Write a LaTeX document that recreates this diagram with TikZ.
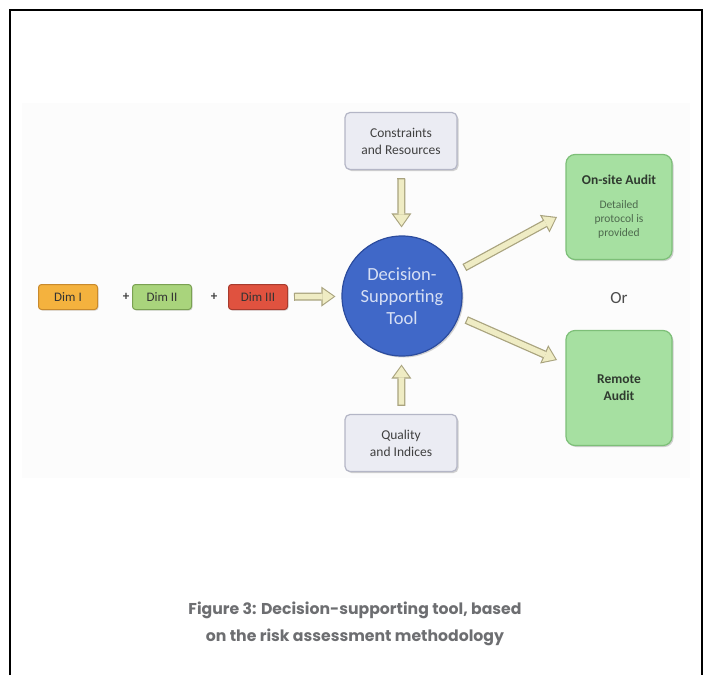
\documentclass[tikz,border=0pt]{standalone}
\usepackage{fontspec}
\setmainfont{Carlito}
\newfontfamily\capfont{Poppins}
\usetikzlibrary{arrows.meta,shadows}
\definecolor{bgfaint}{HTML}{FCFCFC}
\definecolor{greyfill}{HTML}{EBECF3}
\definecolor{greyedge}{HTML}{B4B6C6}
\definecolor{bluefill}{HTML}{4068C8}
\definecolor{blueedge}{HTML}{2C4C9E}
\definecolor{bluetext}{HTML}{D6DFF4}
\definecolor{orfill}{HTML}{F4B23E}
\definecolor{oredge}{HTML}{C98A2C}
\definecolor{lgfill}{HTML}{A9D47C}
\definecolor{lgedge}{HTML}{7AA152}
\definecolor{rdfill}{HTML}{E0523F}
\definecolor{rdedge}{HTML}{A83B2E}
\definecolor{audfill}{HTML}{A6E0A1}
\definecolor{audedge}{HTML}{7DBF78}
\definecolor{audtext}{HTML}{2F3A2F}
\definecolor{detailtext}{HTML}{4E6A4E}
\definecolor{arrfill}{HTML}{EFECC4}
\definecolor{arredge}{HTML}{A9A37E}
\definecolor{captext}{HTML}{6D6E71}
\tikzset{
  greybox/.style={draw=greyedge, line width=1.2pt, fill=greyfill, rounded corners=5pt,
    minimum width=112pt, minimum height=57pt, align=center, font=\fontsize{13.5}{17}\selectfont,
    text=black!75, drop shadow={shadow xshift=1.5pt, shadow yshift=-1.5pt, opacity=0.35}},
  dimbox/.style={line width=1pt, rounded corners=3pt, minimum width=59pt, minimum height=25pt,
    font=\fontsize{13}{14}\selectfont, text=black!80,
    drop shadow={shadow xshift=1pt, shadow yshift=-1pt, opacity=0.3}},
  audbox/.style={draw=audedge, line width=1.2pt, fill=audfill, rounded corners=9pt,
    minimum width=106pt, align=center, text=audtext,
    drop shadow={shadow xshift=1.5pt, shadow yshift=-1.5pt, opacity=0.35}},
  plus/.style={font=\bfseries\fontsize{13}{14}\selectfont, text=black!75},
  fatout/.style={line width=8pt, draw=arredge, -{Triangle[length=14pt,width=20pt,line width=0pt]}},
  fatin/.style={line width=5.5pt, draw=arrfill, -{Triangle[length=11pt,width=15.5pt,line width=0pt]}},
}
\begin{document}
\begin{tikzpicture}[x=1pt,y=-1pt]
\useasboundingbox (0,0) rectangle (707,675);
% frame
\draw[line width=2pt, black] (10,675) -- (10,10) -- (702,10) -- (702,675);
% faint background
\fill[bgfaint] (22,103) rectangle (690,478);
% nodes
\node[greybox] (cons) at (401,141) {Constraints\\and Resources};
\node[greybox] (qual) at (401,443) {Quality\\and Indices};
\node[circle, draw=blueedge, line width=1.2pt, fill=bluefill, minimum size=120pt, inner sep=0pt, align=center,
  text=bluetext, font=\fontsize{18.5}{22}\selectfont,
  drop shadow={shadow xshift=1.5pt, shadow yshift=-1.5pt, opacity=0.35}] (tool) at (402,296)
  {Decision-\\Supporting\\Tool};
\node[dimbox, draw=oredge, fill=orfill] (d1) at (68,297) {Dim I};
\node[plus] (p1) at (126,297) {+};
\node[dimbox, draw=lgedge, fill=lgfill] (d2) at (162,297) {Dim II};
\node[plus] (p2) at (214,297) {+};
\node[dimbox, draw=rdedge, fill=rdfill] (d3) at (258,297) {Dim III};
\node[audbox, minimum height=105pt, font=\fontsize{11.5}{14}\selectfont] (onsite) at (619,207)
  {{\bfseries\fontsize{13.5}{16}\selectfont On-site Audit}\\[10pt]{\color{detailtext}Detailed}\\{\color{detailtext}protocol is}\\{\color{detailtext}provided}};
\node[font=\fontsize{17}{19}\selectfont, text=black!70] (or) at (619,298) {Or};
\node[audbox, minimum height=115pt, font=\bfseries\fontsize{13.5}{17}\selectfont] (remote) at (619,388)
  {Remote\\Audit};
% caption
\node[font=\capfont\bfseries\fontsize{15.7}{27}\selectfont, text=captext, align=center] (cap) at (355,624)
  {Figure 3: Decision-supporting tool, based\\on the risk assessment methodology};
% arrow end points
\coordinate (e1) at (557,217);
\coordinate (e2) at (557,360);
% arrows
\foreach \s/\t/\a/\b in {d3/tool/6/6, cons/tool/8/8, qual/tool/8/8, tool.24/e1/8/0, tool.-20/e2/8/0}{
  \draw[fatout, shorten <=\a pt, shorten >=\b pt] (\s) -- (\t);
  \draw[fatin, shorten <=\a pt+1.2pt, shorten >=\b pt+1.8pt] (\s) -- (\t);
}
\end{tikzpicture}
\end{document}
